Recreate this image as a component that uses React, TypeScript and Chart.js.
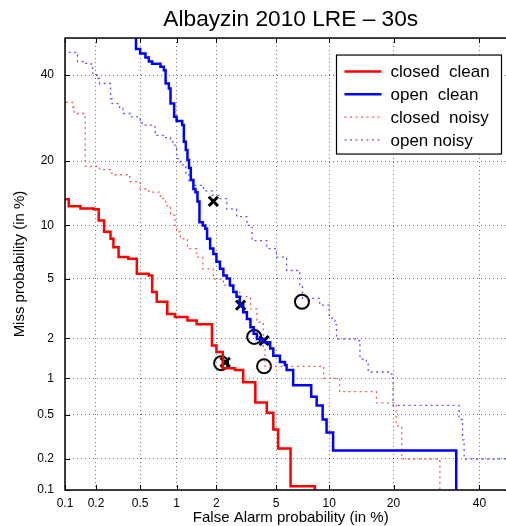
import React, { useEffect, useRef } from 'react';
import { Chart, registerables } from 'chart.js';

Chart.register(...registerables);

const FONT = '"Liberation Sans", Arial, Helvetica, sans-serif';

const chartTitle = 'Albayzin 2010 LRE \u2013 30s';
const xTitle = 'False Alarm probability (in %)';
const yTitle = 'Miss probability (in %)';

const tickValues = [0.1, 0.2, 0.5, 1, 2, 5, 10, 20, 40];
const tickLabels = ['0.1', '0.2', '0.5', '1', '2', '5', '10', '20', '40'];

const seriesLabels = ['closed  clean', 'open  clean', 'closed  noisy', 'open noisy'];

// closed clean (red solid)
const closedCleanFA = [0.08, 0.109, 0.142, 0.19, 0.212, 0.238, 0.273, 0.29, 0.323, 0.394, 0.468, 0.593, 0.632, 0.69, 0.842, 0.97, 1.216, 1.43, 1.855, 2.0, 2.22, 2.7, 3.07, 3.69, 4.37, 4.8, 5.14, 6.1, 8.38];
const closedCleanMiss = [13.5, 12.5, 12.2, 12.1, 10.6, 9.26, 8.5, 7.64, 6.71, 6.57, 5.35, 5.22, 4.12, 3.57, 2.96, 2.82, 2.67, 2.52, 1.78, 1.59, 1.2, 1.16, 0.93, 0.635, 0.52, 0.372, 0.25, 0.109, 0.05];

// open clean (blue solid)
const openCleanFA = [0.46, 0.46, 0.5, 0.555, 0.593, 0.632, 0.74, 0.79, 0.816, 0.867, 0.894, 0.956, 1.0, 1.107, 1.14, 1.18, 1.216, 1.25, 1.29, 1.35, 1.4, 1.45, 1.5, 1.59, 1.66, 1.71, 1.8, 1.9, 2.0, 2.12, 2.24, 2.37, 2.49, 2.63, 2.77, 2.91, 3.07, 3.25, 3.43, 3.6, 3.78, 4.15, 4.59, 4.8, 5.27, 5.65, 5.78, 6.32, 8.0, 8.57, 9.23, 9.68, 10.47, 34];
const openCleanMiss = [60, 47, 45.8, 44.7, 43.6, 43.0, 42.2, 41.3, 37.8, 36.5, 32.7, 29.5, 28.5, 27.6, 23.9, 22.2, 20.2, 18.7, 16.6, 15.1, 14.6, 13.2, 10.4, 10.0, 9.6, 8.5, 7.5, 7.0, 6.3, 5.73, 5.22, 5.0, 4.54, 4.12, 3.85, 3.39, 3.04, 2.74, 2.4, 2.16, 1.98, 1.88, 1.69, 1.49, 1.34, 1.27, 1.16, 0.88, 0.71, 0.6, 0.455, 0.35, 0.24, 0.05];

// closed noisy (red dotted)
const closedNoisyFA = [0.09, 0.119, 0.123, 0.158, 0.217, 0.273, 0.282, 0.406, 0.5, 0.593, 0.74, 0.816, 0.894, 0.97, 1.0, 1.07, 1.216, 1.43, 1.59, 1.9, 2.24, 2.63, 2.91, 3.43, 3.78, 4.15, 4.26, 9.35, 11.3, 16.9, 20.5, 21.6, 30];
const closedNoisyMiss = [33.0, 31.8, 30.3, 19.0, 18.4, 17.8, 17.5, 16.3, 15.1, 14.6, 13.6, 12.6, 11.3, 10.0, 9.26, 8.5, 7.5, 6.7, 5.73, 4.97, 4.56, 4.12, 3.85, 3.2, 2.6, 1.69, 1.24, 1.0, 0.78, 0.63, 0.4, 0.2, 0.05];

// open noisy (blue dotted)
const openNoisyFA = [0.109, 0.128, 0.133, 0.151, 0.18, 0.186, 0.203, 0.215, 0.273, 0.282, 0.33, 0.353, 0.42, 0.5, 0.52, 0.632, 0.67, 0.79, 0.894, 0.97, 1.0, 1.07, 1.18, 1.25, 1.36, 1.61, 1.86, 2.12, 2.37, 2.77, 3.25, 3.52, 4.37, 5.02, 5.78, 6.9, 7.15, 8.9, 10.0, 10.7, 10.9, 13.9, 14.2, 15.2, 15.5, 19.3, 19.9, 34.7, 35.6, 36.0, 60];
const openNoisyMiss = [46.1, 45.8, 43.6, 43.1, 42.2, 40.4, 39.1, 37.8, 33.9, 32.7, 31.5, 30.3, 29.5, 28.7, 27.6, 27.2, 25.3, 24.8, 23.9, 22.6, 20.5, 19.3, 17.5, 16.3, 15.7, 14.8, 14.1, 13.6, 12.1, 11.1, 10.0, 8.3, 7.5, 6.7, 5.6, 4.54, 3.75, 3.39, 2.78, 2.5, 1.98, 1.93, 1.41, 1.34, 1.12, 1.08, 0.6, 0.455, 0.3, 0.2, 0.2];

// operating point markers
const crossFA = [1.9, 2.95, 4.2, 2.31];
const crossMiss = [13.2, 3.39, 1.93, 1.33];
const circleFA = [2.16, 3.63, 4.2, 7.1];
const circleMiss = [1.31, 2.05, 1.24, 3.57];

function probit(p: number): number {
  const a = [-3.969683028665376e1, 2.209460984245205e2, -2.759285104469687e2, 1.38357751867269e2, -3.066479806614716e1, 2.506628277459239];
  const b = [-5.447609879822406e1, 1.615858368580409e2, -1.556989798598866e2, 6.680131188771972e1, -1.328068155288572e1];
  const c = [-7.784894002430293e-3, -3.223964580411365e-1, -2.400758277161838, -2.549732539343734, 4.374664141464968, 2.938163982698783];
  const d = [7.784695709041462e-3, 3.224671290700398e-1, 2.445134137142996, 3.754408661907416];
  const pl = 0.02425;
  if (p < pl) {
    const q = Math.sqrt(-2 * Math.log(p));
    return (((((c[0] * q + c[1]) * q + c[2]) * q + c[3]) * q + c[4]) * q + c[5]) / ((((d[0] * q + d[1]) * q + d[2]) * q + d[3]) * q + 1);
  }
  if (p <= 1 - pl) {
    const q = p - 0.5;
    const r = q * q;
    return ((((((a[0] * r + a[1]) * r + a[2]) * r + a[3]) * r + a[4]) * r + a[5]) * q) / (((((b[0] * r + b[1]) * r + b[2]) * r + b[3]) * r + b[4]) * r + 1);
  }
  const q = Math.sqrt(-2 * Math.log(1 - p));
  return -(((((c[0] * q + c[1]) * q + c[2]) * q + c[3]) * q + c[4]) * q + c[5]) / ((((d[0] * q + d[1]) * q + d[2]) * q + d[3]) * q + 1);
}

const toPts = (xs: number[], ys: number[]) => xs.map((x, i) => ({ x: probit(x / 100), y: probit(ys[i] / 100) }));

const AXIS_MIN = probit(0.001);
const AXIS_MAX = 0;

const framePlugin = {
  id: 'detFrame',
  afterDraw(chart: any) {
    const { ctx, chartArea } = chart;
    const { left, right, top, bottom } = chartArea;
    const xs = chart.scales.x;
    const ys = chart.scales.y;
    ctx.save();
    ctx.strokeStyle = '#000';
    ctx.lineWidth = 1;
    ctx.setLineDash([]);
    ctx.beginPath();
    for (const v of tickValues) {
      const px = Math.round(xs.getPixelForValue(probit(v / 100))) + 0.5;
      ctx.moveTo(px, top);
      ctx.lineTo(px, top + 5);
      ctx.moveTo(px, bottom);
      ctx.lineTo(px, bottom - 5);
      const py = Math.round(ys.getPixelForValue(probit(v / 100))) + 0.5;
      ctx.moveTo(left, py);
      ctx.lineTo(left + 5, py);
      ctx.moveTo(right, py);
      ctx.lineTo(right - 5, py);
    }
    ctx.stroke();
    ctx.lineWidth = 1.5;
    ctx.strokeRect(left, top, right - left, bottom - top);

    // legend
    const bx = right - 180;
    const by = top + 17;
    const bw = 165;
    const bh = 99;
    ctx.fillStyle = '#fff';
    ctx.fillRect(bx, by, bw, bh);
    ctx.lineWidth = 1.2;
    ctx.strokeStyle = '#000';
    ctx.strokeRect(bx, by, bw, bh);
    const dsets = chart.data.datasets.slice(0, 4);
    ctx.font = `17px ${FONT}`;
    ctx.textBaseline = 'middle';
    ctx.textAlign = 'left';
    dsets.forEach((ds: any, i: number) => {
      const y = by + 16.5 + i * 22.8;
      ctx.save();
      ctx.strokeStyle = ds.borderColor;
      ctx.lineWidth = ds.borderWidth;
      ctx.setLineDash(ds.borderDash || []);
      ctx.beginPath();
      ctx.moveTo(bx + 8, y);
      ctx.lineTo(bx + 45, y);
      ctx.stroke();
      ctx.restore();
      ctx.fillStyle = '#000';
      ctx.fillText(ds.label, bx + 54, y + 1);
    });
    ctx.restore();
  },
};

export default function App() {
  const ref = useRef<HTMLCanvasElement | null>(null);
  useEffect(() => {
    if (!ref.current) return;
    const lineBase = { pointRadius: 0, stepped: 'before' as const, fill: false, tension: 0 };
    const chart = new Chart(ref.current, {
      type: 'line',
      data: {
        datasets: [
          { ...lineBase, label: seriesLabels[0], data: toPts(closedCleanFA, closedCleanMiss), borderColor: '#ff0000', borderWidth: 2.5 },
          { ...lineBase, label: seriesLabels[1], data: toPts(openCleanFA, openCleanMiss), borderColor: '#0000ff', borderWidth: 2.5 },
          { ...lineBase, label: seriesLabels[2], data: toPts(closedNoisyFA, closedNoisyMiss), borderColor: 'rgba(255,70,70,0.9)', borderWidth: 1.3, borderDash: [2, 3.5] },
          { ...lineBase, label: seriesLabels[3], data: toPts(openNoisyFA, openNoisyMiss), borderColor: 'rgba(70,70,255,0.9)', borderWidth: 1.3, borderDash: [2, 3.5] },
          { label: 'min', data: toPts(crossFA, crossMiss), showLine: false, pointStyle: 'crossRot', pointRadius: 6.5, borderWidth: 3, pointBorderWidth: 3, pointBorderColor: '#000', pointBackgroundColor: '#000', borderColor: '#000' },
          { label: 'act', data: toPts(circleFA, circleMiss), showLine: false, pointStyle: 'circle', pointRadius: 7, borderWidth: 2, pointBorderWidth: 2, pointBorderColor: '#000', pointBackgroundColor: 'rgba(0,0,0,0)', borderColor: '#000' },
        ] as any,
      },
      options: {
        animation: false,
        responsive: false,
        devicePixelRatio: 1,
        layout: { padding: { top: 0, left: 0, right: 3, bottom: 0 } },
        plugins: {
          legend: { display: false },
          tooltip: { enabled: false },
          title: {
            display: true,
            fullSize: false,
            text: chartTitle,
            color: '#000',
            font: { family: FONT, size: 22.7, weight: 'normal', lineHeight: 1.2 },
            padding: { top: 6.5, bottom: 4.3 },
          },
        },
        scales: {
          x: {
            type: 'linear',
            min: AXIS_MIN,
            max: AXIS_MAX,
            afterBuildTicks: (s: any) => {
              s.ticks = tickValues.map((v) => ({ value: probit(v / 100) }));
            },
            afterFit: (s: any) => {
              s.height = 36;
            },
            ticks: {
              autoSkip: false,
              maxRotation: 0,
              padding: 6,
              color: '#000',
              font: { family: FONT, size: 12 },
              callback: (_v: any, i: number) => tickLabels[i],
            },
            grid: { color: 'rgba(0,0,0,0.55)', lineWidth: 1, drawTicks: false },
            border: { display: false, dash: [1, 3] },
            title: { display: true, text: xTitle, color: '#000', font: { family: FONT, size: 15, lineHeight: 1 }, padding: { top: 0, bottom: 0.5 } },
          },
          y: {
            type: 'linear',
            min: AXIS_MIN,
            max: AXIS_MAX,
            afterBuildTicks: (s: any) => {
              s.ticks = tickValues.map((v) => ({ value: probit(v / 100) }));
            },
            afterFit: (s: any) => {
              s.width = 65;
            },
            ticks: {
              autoSkip: false,
              padding: 11,
              color: '#000',
              font: { family: FONT, size: 12 },
              callback: (_v: any, i: number) => tickLabels[i],
            },
            grid: { color: 'rgba(0,0,0,0.55)', lineWidth: 1, drawTicks: false },
            border: { display: false, dash: [1, 3] },
            title: { display: true, text: yTitle, color: '#000', font: { family: FONT, size: 15, lineHeight: 1 }, padding: { top: 12, bottom: 0 } },
          },
        },
      } as any,
      plugins: [framePlugin],
    });
    return () => chart.destroy();
  }, []);
  return (
    <div style={{ position: 'absolute', left: 0, top: 0, width: 506, height: 526, overflow: 'hidden', background: '#fff' }}>
      <canvas ref={ref} width={526} height={526} style={{ display: 'block' }} />
    </div>
  );
}
